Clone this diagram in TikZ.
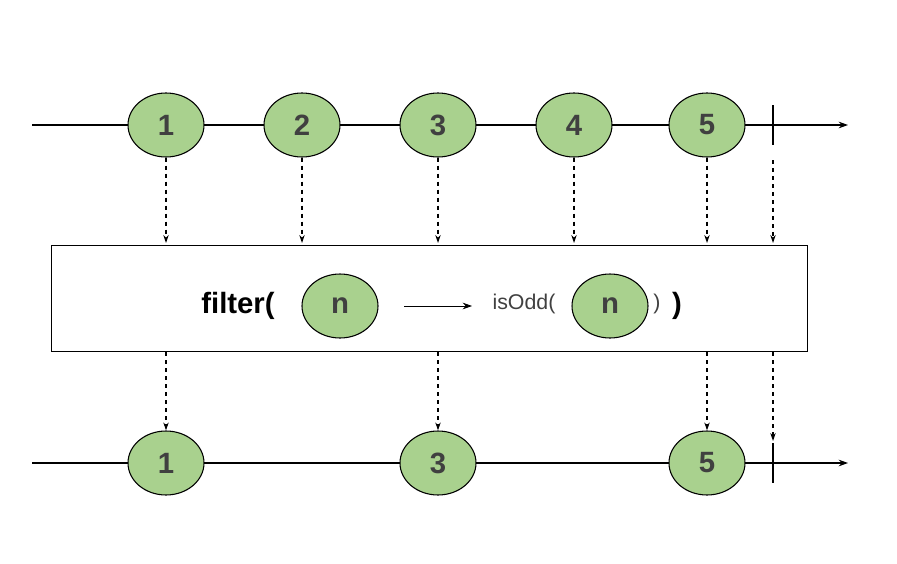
\documentclass[tikz,border=0pt]{standalone}
\usepackage{fontspec}
\setmainfont{Liberation Sans}
\usetikzlibrary{arrows.meta,shapes.geometric}
\definecolor{marble}{HTML}{A9D18E}
\begin{document}
\begin{tikzpicture}[x=0.75pt, y=-0.75pt, thick,
    item/.style={ellipse, draw, fill=marble, minimum width=57pt, minimum height=48pt, inner sep=0pt, font=\fontsize{22}{24}\selectfont\bfseries, text=black!75},
    flow/.style={-{Stealth[length=7pt,width=5pt]}},
    tap/.style={dashed, -{Stealth[length=6pt,width=4pt]}}]
    \useasboundingbox (0,0) rectangle (897,564);

    % Source stream
    \coordinate (s0) at (32,125);
    \coordinate (s1) at (848,125);
    \draw[flow] (s0) -- (s1);
    \foreach \v/\x in {1/166,2/302,3/438,4/574,5/707}
        \node[item] (t\v) at (\x,125) {\v};
    \draw[line width=2pt] (773,105) -- (773,145);

    % Operator box
    \node[draw, minimum width=567pt, minimum height=80pt, inner sep=0pt] (op) at (429.5,298.5) {};
    \node[font=\fontsize{22}{24}\selectfont\bfseries] at (238,306) {filter(};
    \node[item] (n1) at (340,306) {n};
    \coordinate (a0) at (404,306);
    \coordinate (a1) at (472,306);
    \draw[flow, semithick] (a0) -- (a1);
    \node[font=\fontsize{16}{18}\selectfont, text=black!75] at (524,304) {isOdd(};
    \node[item] (n2) at (610,306) {n};
    \node[font=\fontsize{16}{18}\selectfont, text=black!75] at (657,304) {)};
    \node[font=\fontsize{22}{24}\selectfont\bfseries] at (677,306) {)};

    % Result stream
    \coordinate (r0) at (32,463);
    \coordinate (r1) at (848,463);
    \draw[flow] (r0) -- (r1);
    \foreach \v/\x in {1/166,3/438,5/707}
        \node[item] (b\v) at (\x,463) {\v};
    \draw[line width=2pt] (773,443) -- (773,483);

    % Taps into and out of the box
    \foreach \v/\x in {1/166,2/302,3/438,4/574,5/707}
        \draw[tap] (t\v.south) -- (\x,243);
    \coordinate (e0) at (773,160);
    \coordinate (e1) at (773,243);
    \draw[tap] (e0) -- (e1);
    \foreach \v/\x in {1/166,3/438,5/707}
        \draw[tap] (\x,352) -- (b\v.north);
    \coordinate (e2) at (773,352);
    \coordinate (e3) at (773,441);
    \draw[tap] (e2) -- (e3);

\end{tikzpicture}
\end{document}
